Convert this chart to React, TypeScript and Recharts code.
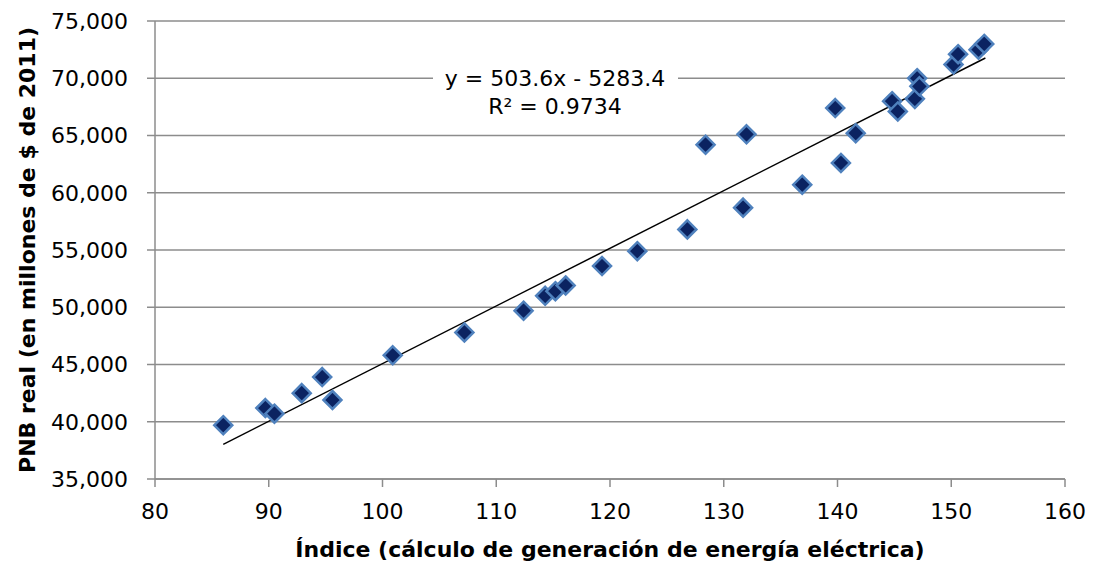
import { ScatterChart, Scatter, XAxis, YAxis, CartesianGrid, ReferenceLine } from "recharts";

const indexValues = [
  86.0, 89.7, 90.5, 92.9, 94.7, 95.6, 100.9, 107.2, 112.4, 114.3, 115.2, 116.1, 119.3, 122.4, 126.8, 128.4,
  131.7, 132.0, 136.9, 139.8, 140.3, 141.6, 144.8, 145.3, 146.8, 147.0, 147.2, 150.2, 150.6, 152.4, 152.9,
];
const pnbValues = [
  39700, 41200, 40700, 42500, 43900, 41900, 45800, 47800, 49700, 51000, 51400, 51900, 53600, 54900, 56800, 64200,
  58700, 65100, 60700, 67400, 62600, 65200, 68000, 67100, 68200, 70000, 69300, 71200, 72100, 72500, 73000,
];
const xTicks = [80, 90, 100, 110, 120, 130, 140, 150, 160];
const yTicks = [35000, 40000, 45000, 50000, 55000, 60000, 65000, 70000, 75000];

// recta de tendencia (Excel): y = 503.6x - 5283.4
const slope = 503.6;
const intercept = -5283.4;
const trendFrom = 86;
const trendTo = 153;

const data = indexValues.map((x, i) => ({ x, y: pnbValues[i] }));

const FONT = "DejaVu Sans";
const GRID = "#8c8c8c";

const Diamond = (props: any) => {
  const { cx, cy } = props;
  const r = 9;
  return (
    <polygon
      points={`${cx},${cy - r} ${cx + r},${cy} ${cx},${cy + r} ${cx - r},${cy}`}
      fill="#0b2361"
      stroke="#4f81bd"
      strokeWidth={2.5}
    />
  );
};

const Equation = () => (
  <g fontFamily={FONT} fontSize={22} fill="#000">
    <rect x={433} y={62} width={245} height={58} fill="#fff" />
    <text x={555} y={86} textAnchor="middle">y = 503.6x - 5283.4</text>
    <text x={555} y={114} textAnchor="middle">R² = 0.9734</text>
  </g>
);

export default function App() {
  return (
    <div style={{ position: "absolute", left: 0, top: 0, background: "#fff" }}>
      <ScatterChart width={1098} height={565} margin={{ top: 21, right: 33, bottom: 0, left: 0 }}>
        <CartesianGrid vertical={false} stroke={GRID} strokeWidth={1.5} />
        <XAxis
          type="number"
          dataKey="x"
          domain={[80, 160]}
          ticks={xTicks}
          height={86}
          tickSize={8}
          tickMargin={16}
          stroke={GRID}
          strokeWidth={1.5}
          tick={{ fontSize: 22, fill: "#000", fontFamily: FONT }}
          label={{
            content: () => (
              <text x={610} y={557} textAnchor="middle" fontFamily={FONT} fontSize={22} fontWeight="bold" fill="#000">
                Índice (cálculo de generación de energía eléctrica)
              </text>
            ),
          }}
        />
        <YAxis
          type="number"
          dataKey="y"
          domain={[35000, 75000]}
          ticks={yTicks}
          width={155}
          tickSize={8}
          tickMargin={19}
          stroke={GRID}
          strokeWidth={1.5}
          tickFormatter={(v: number) => v.toLocaleString("en-US")}
          tick={{ fontSize: 22, fill: "#000", fontFamily: FONT }}
          label={{
            content: () => (
              <text
                x={35}
                y={250}
                transform="rotate(-90, 35, 250)"
                textAnchor="middle"
                fontFamily={FONT}
                fontSize={22}
                fontWeight="bold"
                fill="#000"
              >
                PNB real (en millones de $ de 2011)
              </text>
            ),
          }}
        />
        <Scatter data={data} shape={Diamond} isAnimationActive={false} />
        <ReferenceLine
          segment={[
            { x: trendFrom, y: slope * trendFrom + intercept },
            { x: trendTo, y: slope * trendTo + intercept },
          ]}
          stroke="#000"
          strokeWidth={1.5}
          label={{ content: () => <Equation /> }}
        />
      </ScatterChart>
    </div>
  );
}
